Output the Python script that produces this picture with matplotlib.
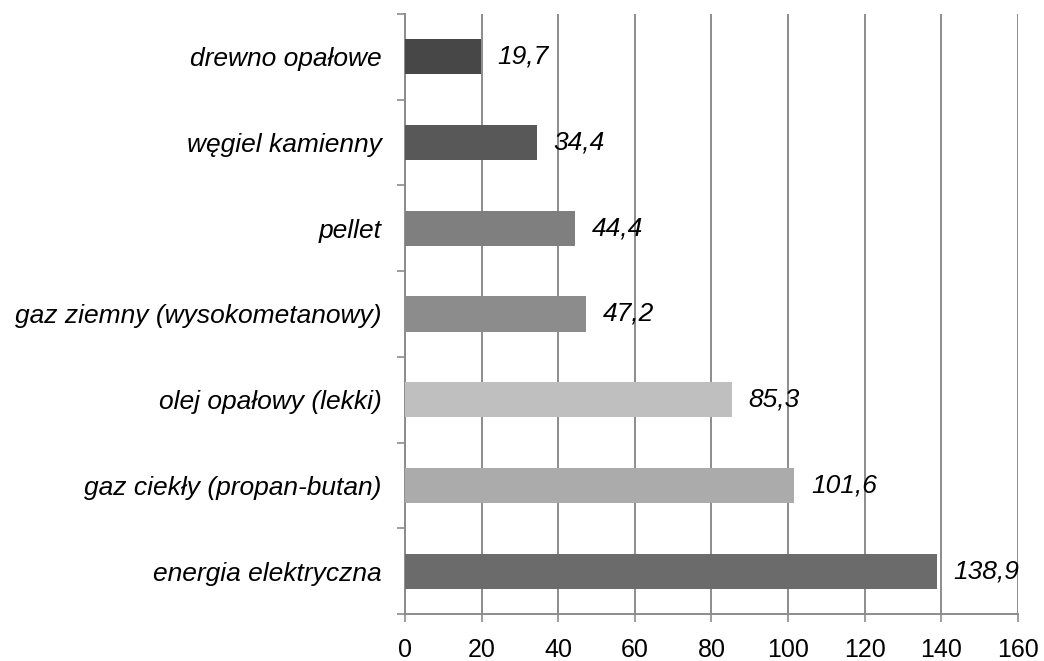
import numpy as np
import matplotlib
matplotlib.use("Agg")
import matplotlib.pyplot as plt

categories = ['drewno opałowe', 'węgiel kamienny', 'pellet',
              'gaz ziemny (wysokometanowy)', 'olej opałowy (lekki)',
              'gaz ciekły (propan-butan)', 'energia elektryczna']
values = [19.7, 34.4, 44.4, 47.2, 85.3, 101.6, 138.9]
bar_colors = ['#474747', '#585858', '#7f7f7f', '#8c8c8c',
              '#bfbfbf', '#ababab', '#6b6b6b']
x_ticks = [0, 20, 40, 60, 80, 100, 120, 140, 160]

plt.rcParams['font.family'] = ['Liberation Sans', 'DejaVu Sans']

fig = plt.figure(figsize=(10.44, 6.61), dpi=100)
ax = fig.add_axes([0.388, 0.071, 0.587, 0.908])

y_pos = np.arange(len(categories))
ax.barh(y_pos, values, height=0.41, color=bar_colors, zorder=3)

ax.set_xlim(0, 160)
ax.set_ylim(len(categories) - 0.5, -0.5)  # top to bottom
ax.set_xticks(x_ticks)
ax.set_xticklabels([str(t) for t in x_ticks], fontsize=18)
ax.xaxis.grid(True, color='#8c8c8c', linewidth=1.4, zorder=0)

# category ticks sit between bars, labels at the bar centres
ax.set_yticks(np.arange(-0.5, len(categories), 1.0))
ax.set_yticklabels([])
ax.set_yticks(y_pos, minor=True)
ax.set_yticklabels(categories, minor=True, fontsize=19, style='italic')
ax.tick_params(axis='y', which='minor', length=0, pad=17)
ax.tick_params(axis='y', which='major', length=6, width=1.2, color='#8c8c8c')
ax.tick_params(axis='x', length=6, width=1.2, color='#8c8c8c', pad=11)

for s in ['top', 'right']:
    ax.spines[s].set_visible(False)
for s in ['left', 'bottom']:
    ax.spines[s].set_color('#8c8c8c')
    ax.spines[s].set_linewidth(1.4)

for y, v in zip(y_pos, values):
    ax.annotate(f"{v:.1f}".replace('.', ','), (v, y), xytext=(12, 0),
                textcoords='offset points', va='center', ha='left',
                fontsize=19, style='italic')

fig.savefig('out.png', dpi=100)
